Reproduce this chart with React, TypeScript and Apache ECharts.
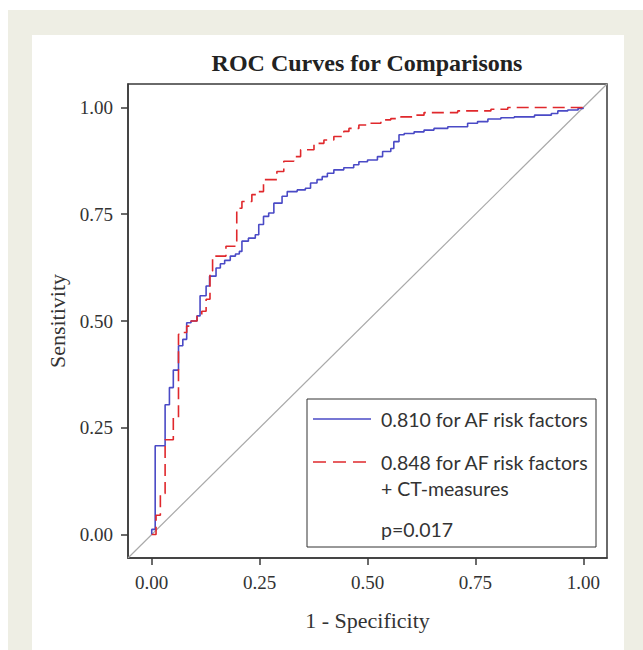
import React, { useEffect, useRef } from 'react';
import * as echarts from 'echarts';

const chartTitle = 'ROC Curves for Comparisons';
const xAxisName = '1 - Specificity';
const yAxisName = 'Sensitivity';
const tickValues = [0, 0.25, 0.5, 0.75, 1];
const legendLabels = ['0.810 for AF risk factors', '0.848 for AF risk factors', '+ CT-measures', 'p=0.017'];

// AF risk factors (blue, solid) – step corners (fpr, tpr)
const fprAF = [0, 0, 0.008, 0.031, 0.041, 0.05, 0.062, 0.072, 0.081, 0.091, 0.105, 0.112, 0.126, 0.134, 0.149, 0.159, 0.169, 0.182, 0.194, 0.203, 0.209, 0.224, 0.24, 0.248, 0.259, 0.271, 0.283, 0.302, 0.314, 0.337, 0.356, 0.368, 0.383, 0.395, 0.407, 0.422, 0.445, 0.468, 0.48, 0.5, 0.523, 0.535, 0.554, 0.561, 0.573, 0.585, 0.608, 0.631, 0.654, 0.686, 0.732, 0.755, 0.779, 0.809, 0.84, 0.887, 0.926, 0.941, 0.964, 0.988, 1];
const tprAF = [0, 0.012, 0.208, 0.304, 0.344, 0.385, 0.442, 0.457, 0.496, 0.5, 0.512, 0.559, 0.582, 0.605, 0.624, 0.634, 0.642, 0.652, 0.657, 0.663, 0.687, 0.694, 0.702, 0.726, 0.745, 0.753, 0.776, 0.792, 0.803, 0.807, 0.811, 0.823, 0.831, 0.838, 0.846, 0.854, 0.859, 0.866, 0.873, 0.877, 0.885, 0.897, 0.904, 0.92, 0.936, 0.939, 0.943, 0.947, 0.951, 0.955, 0.963, 0.967, 0.973, 0.976, 0.978, 0.982, 0.986, 0.992, 0.994, 0.998, 1];

// AF risk factors + CT-measures (red, dashed)
const fprCT = [0, 0.01, 0.02, 0.031, 0.05, 0.062, 0.073, 0.081, 0.091, 0.105, 0.116, 0.126, 0.135, 0.141, 0.172, 0.197, 0.209, 0.232, 0.244, 0.259, 0.29, 0.306, 0.329, 0.345, 0.376, 0.399, 0.422, 0.445, 0.457, 0.48, 0.503, 0.531, 0.554, 0.577, 0.608, 0.631, 0.709, 0.786, 0.825, 1];
const tprCT = [0, 0.045, 0.096, 0.222, 0.274, 0.469, 0.473, 0.488, 0.5, 0.512, 0.523, 0.551, 0.617, 0.652, 0.675, 0.764, 0.78, 0.796, 0.803, 0.831, 0.85, 0.874, 0.885, 0.901, 0.916, 0.924, 0.932, 0.944, 0.951, 0.959, 0.963, 0.971, 0.974, 0.978, 0.982, 0.988, 0.992, 0.996, 1, 1];

const AXIS_MIN = -0.055;
const AXIS_MAX = 1.055;

const BLUE = '#4a4ac6';
const RED = '#e0282c';
const SERIF = '"Liberation Serif", "Times New Roman", serif';
const SANS = 'Lato, "Noto Sans", sans-serif';

export default function App() {
  const ref = useRef<HTMLDivElement>(null);

  useEffect(() => {
    if (!ref.current) return;
    const chart = echarts.init(ref.current, null, { renderer: 'svg' });
    const zip = (xs: number[], ys: number[]) => xs.map((x, i) => [x, ys[i]]);

    const axisCommon = {
      type: 'value',
      min: AXIS_MIN,
      max: AXIS_MAX,
      nameLocation: 'middle',
      nameTextStyle: { fontFamily: SERIF, fontSize: 22, color: '#333' },
      axisLine: { show: true, onZero: false, lineStyle: { color: '#3a3a3a', width: 1.5 } },
      axisTick: { show: true, length: 7, customValues: tickValues, lineStyle: { color: '#3a3a3a', width: 1.5 } },
      axisLabel: {
        customValues: tickValues,
        formatter: (v: number) => v.toFixed(2),
        fontFamily: SERIF,
        fontSize: 19,
        color: '#333',
        margin: 15,
      },
      splitLine: { show: false },
    };

    chart.setOption({
      animation: false,
      backgroundColor: 'transparent',
      grid: {
        left: 128,
        top: 84,
        width: 479,
        height: 474,
        show: true,
        borderColor: '#3a3a3a',
        borderWidth: 1.5,
        backgroundColor: 'transparent',
      },
      xAxis: { ...axisCommon, name: xAxisName, nameGap: 51 },
      yAxis: { ...axisCommon, name: yAxisName, nameGap: 57 },
      series: [
        {
          type: 'line',
          name: 'diagonal',
          data: [[AXIS_MIN, AXIS_MIN], [AXIS_MAX, AXIS_MAX]],
          symbol: 'none',
          silent: true,
          lineStyle: { color: '#a9a9a9', width: 1.2 },
          z: 1,
        },
        {
          type: 'line',
          name: legendLabels[0],
          data: zip(fprAF, tprAF),
          step: 'end',
          symbol: 'none',
          lineStyle: { color: BLUE, width: 1.6 },
          z: 3,
        },
        {
          type: 'line',
          name: legendLabels[1],
          data: zip(fprCT, tprCT),
          step: 'end',
          symbol: 'none',
          lineStyle: { color: RED, width: 1.6, type: [12, 6] },
          z: 4,
        },
      ],
      graphic: [
        {
          type: 'text',
          x: 367,
          y: 63,
          style: {
            text: chartTitle,
            fontFamily: SERIF,
            fontWeight: 'bold',
            fontSize: 24,
            fill: '#222',
            textAlign: 'center',
            textVerticalAlign: 'middle',
          },
        },
        {
          type: 'rect',
          shape: { x: 307, y: 399, width: 289, height: 148 },
          style: { fill: '#fff', stroke: '#333', lineWidth: 1 },
          z: 10,
        },
        {
          type: 'line',
          shape: { x1: 313, y1: 419, x2: 371, y2: 419 },
          style: { stroke: BLUE, lineWidth: 1.6 },
          z: 11,
        },
        {
          type: 'line',
          shape: { x1: 313, y1: 462, x2: 371, y2: 462 },
          style: { stroke: RED, lineWidth: 1.6, lineDash: [13, 7] },
          z: 11,
        },
        ...[
          { t: legendLabels[0], y: 419 },
          { t: legendLabels[1], y: 462 },
          { t: legendLabels[2], y: 488 },
          { t: legendLabels[3], y: 529 },
        ].map((d) => ({
          type: 'text',
          x: 381,
          y: d.y,
          z: 11,
          style: {
            text: d.t,
            fontFamily: SANS,
            fontSize: 19.5,
            fill: '#333',
            textAlign: 'left',
            textVerticalAlign: 'middle',
          },
        })),
      ],
    });
    return () => chart.dispose();
  }, []);

  return (
    <div style={{ position: 'fixed', left: 0, top: 0, width: 643, height: 650, background: '#fff', overflow: 'hidden' }}>
      <div style={{ position: 'absolute', left: 8, top: 10, width: 635, height: 640, background: '#eeeee4' }} />
      <div style={{ position: 'absolute', left: 32, top: 35, width: 592, height: 615, background: '#fff' }} />
      <div ref={ref} style={{ position: 'absolute', left: 0, top: 0, width: 643, height: 650 }} />
    </div>
  );
}
